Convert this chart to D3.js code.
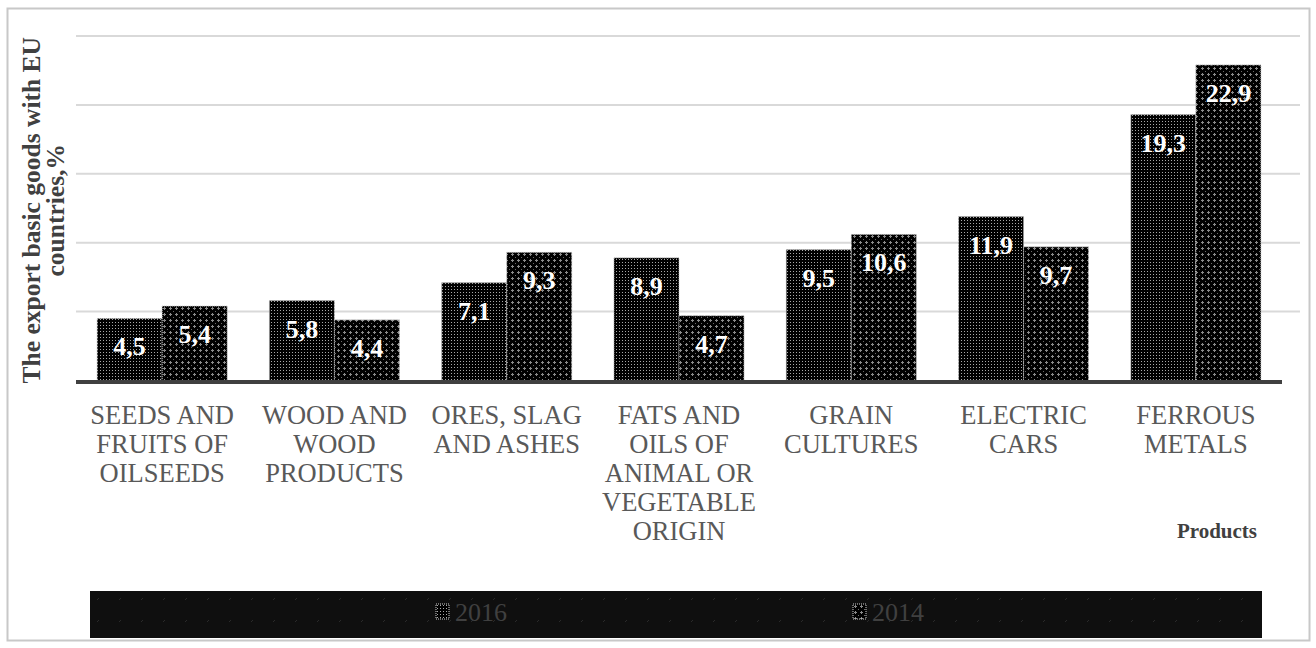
<!DOCTYPE html>
<html>
<head>
<meta charset="utf-8">
<script src="https://cdn.jsdelivr.net/npm/d3@7"></script>
<style>
  html, body { margin: 0; padding: 0; background: #fff; }
  svg { display: block; }
</style>
</head>
<body>
<svg id="chart" width="1316" height="648"></svg>
<script>
const categories = [
  ["SEEDS AND", "FRUITS OF", "OILSEEDS"],
  ["WOOD AND", "WOOD", "PRODUCTS"],
  ["ORES, SLAG", "AND ASHES"],
  ["FATS AND", "OILS OF", "ANIMAL OR", "VEGETABLE", "ORIGIN"],
  ["GRAIN", "CULTURES"],
  ["ELECTRIC", "CARS"],
  ["FERROUS", "METALS"]
];
const seriesNames = ["2016", "2014"];
const values2016 = [4.5, 5.8, 7.1, 8.9, 9.5, 11.9, 19.3];
const values2014 = [5.4, 4.4, 9.3, 4.7, 10.6, 9.7, 22.9];
const yTicks = [0, 5, 10, 15, 20, 25];
const yTitleLines = ["The export basic goods with EU", "countries,%"];
const xTitle = "Products";

const svg = d3.select("#chart");
const FONT = "'Liberation Serif', 'Times New Roman', serif";

const defs = svg.append("defs");
// 2016 pattern: dot grid
const p1 = defs.append("pattern").attr("id", "pat2016").attr("patternUnits", "userSpaceOnUse")
  .attr("width", 3).attr("height", 3);
p1.append("rect").attr("width", 3).attr("height", 3).attr("fill", "#000");
p1.append("rect").attr("x", 1).attr("y", 1).attr("width", 1).attr("height", 1).attr("fill", "#a8a8a8");
// 2014 pattern: crosses
const p2 = defs.append("pattern").attr("id", "pat2014").attr("patternUnits", "userSpaceOnUse")
  .attr("width", 6).attr("height", 6);
p2.append("rect").attr("width", 6).attr("height", 6).attr("fill", "#000");
p2.append("rect").attr("x", 2).attr("y", 1).attr("width", 1).attr("height", 3).attr("fill", "#8a8a8a");
p2.append("rect").attr("x", 1).attr("y", 2).attr("width", 3).attr("height", 1).attr("fill", "#8a8a8a");
p2.append("rect").attr("x", 5).attr("y", 5).attr("width", 1).attr("height", 1).attr("fill", "#6a6a6a");
// legend background pattern
const p3 = defs.append("pattern").attr("id", "patLeg").attr("patternUnits", "userSpaceOnUse")
  .attr("width", 22).attr("height", 22);
p3.append("rect").attr("width", 22).attr("height", 22).attr("fill", "#0f0f0f");
p3.append("line").attr("x1", 9).attr("y1", 6).attr("x2", 11).attr("y2", 4).attr("stroke", "#2a2a2a").attr("stroke-width", 1);

const patterns = ["url(#pat2016)", "url(#pat2014)"];

// outer border
svg.append("rect").attr("x", 7.5).attr("y", 8.5).attr("width", 1302).attr("height", 632)
  .attr("fill", "#fff").attr("stroke", "#c8c8c8").attr("stroke-width", 2);

const plotLeft = 76, plotRight = 1282, plotTop = 36, plotBottom = 380.5;
const x = d3.scaleBand().domain(d3.range(categories.length)).range([plotLeft, plotRight])
  .paddingInner(0.245).paddingOuter(0.1225);
const xs = d3.scaleBand().domain(seriesNames).range([0, x.bandwidth()]);
const y = d3.scaleLinear().domain([0, 25]).range([plotBottom, plotTop]);

// gridlines
svg.append("g").selectAll("line").data(yTicks.filter(d => d > 0)).join("line")
  .attr("x1", plotLeft).attr("x2", 1300)
  .attr("y1", d => y(d)).attr("y2", d => y(d))
  .attr("stroke", "#d9d9d9").attr("stroke-width", 2);

// bars
const data = [];
categories.forEach((c, i) => {
  data.push({ i, s: "2016", v: values2016[i], k: 0 });
  data.push({ i, s: "2014", v: values2014[i], k: 1 });
});
svg.append("g").selectAll("rect").data(data).join("rect")
  .attr("x", d => x(d.i) + xs(d.s))
  .attr("y", d => y(d.v))
  .attr("width", xs.bandwidth())
  .attr("height", d => y(0) - y(d.v))
  .attr("fill", d => patterns[d.k])
  .attr("stroke", "#c0c0c0").attr("stroke-width", 1).attr("stroke-dasharray", "1,1");

// data labels
svg.append("g").selectAll("text").data(data).join("text")
  .attr("x", d => x(d.i) + xs(d.s) + xs.bandwidth() / 2)
  .attr("y", d => y(d.v) + 37)
  .attr("text-anchor", "middle")
  .attr("font-family", FONT).attr("font-weight", "bold").attr("font-size", 26)
  .attr("fill", "#fff")
  .text(d => d.v.toFixed(1).replace(".", ","));

// baseline axis
svg.append("line").attr("x1", plotLeft).attr("x2", plotRight)
  .attr("y1", 382).attr("y2", 382).attr("stroke", "#404040").attr("stroke-width", 4);

// category labels
const cat = svg.append("g").selectAll("text").data(categories).join("text")
  .attr("text-anchor", "middle")
  .attr("font-family", FONT).attr("font-size", 26.5).attr("fill", "#595959");
cat.each(function(lines, i) {
  d3.select(this).selectAll("tspan").data(lines).join("tspan")
    .attr("font-family", FONT)
    .attr("x", x(i) + x.bandwidth() / 2)
    .attr("y", (d, j) => 424 + j * 29)
    .text(d => d);
});

// x title
svg.append("text").attr("x", 1257).attr("y", 538).attr("text-anchor", "end")
  .attr("font-family", FONT).attr("font-weight", "bold").attr("font-size", 21).attr("fill", "#404040")
  .text(xTitle);

// y title
const yt = svg.append("text").attr("transform", `translate(0, ${(plotTop + plotBottom) / 2 + 2}) rotate(-90)`)
  .attr("text-anchor", "middle")
  .attr("font-family", FONT).attr("font-weight", "bold").attr("font-size", 25.5).attr("fill", "#404040");
yt.selectAll("tspan").data(yTitleLines).join("tspan")
  .attr("x", 0).attr("y", (d, j) => 40 + j * 24).text(d => d);

// legend
svg.append("rect").attr("x", 90).attr("y", 591).attr("width", 1172).attr("height", 47)
  .attr("fill", "url(#patLeg)");
const legX = [436, 853];
const leg = svg.append("g").selectAll("g").data(seriesNames).join("g")
  .attr("transform", (d, i) => `translate(${legX[i]}, 604)`);
leg.append("rect").attr("width", 13).attr("height", 15)
  .attr("fill", (d, i) => patterns[i]).attr("stroke", "#d0d0d0").attr("stroke-width", 1).attr("stroke-dasharray", "1,1");
leg.append("text").attr("x", 19).attr("y", 17)
  .attr("font-family", FONT).attr("font-size", 26).attr("fill", "#404040")
  .text(d => d);
</script>
</body>
</html>
